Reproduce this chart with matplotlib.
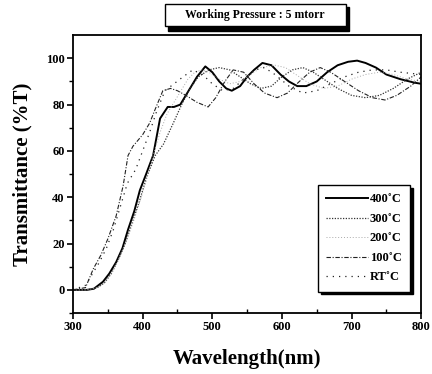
import numpy as np
import matplotlib
matplotlib.use("Agg")
import matplotlib.pyplot as plt
from matplotlib.patches import Rectangle

# wavelength (nm) / transmittance (%T)
wl_400 = [300, 320, 330, 343, 352, 362, 371, 379, 388, 396, 405, 415, 425, 436, 445, 454, 462, 468,
          478, 490, 500, 510, 520, 528, 540, 550, 560, 572, 585, 598, 610, 622, 635, 650, 665, 680,
          695, 708, 720, 735, 750, 770, 790, 800]
t_400 = [0, 0, 0.5, 3.5, 7, 12, 18, 26, 34, 43, 50, 58, 74, 79, 79, 80, 84, 87,
         92, 96.5, 94, 90, 87, 86, 88, 92, 95, 98, 97, 93, 90, 88, 88, 90, 94, 97,
         98.5, 99, 98, 96, 93, 91, 89.5, 89]

wl_300 = [300, 320, 335, 345, 355, 365, 375, 385, 395, 405, 418, 430, 444, 456, 468, 480, 495, 510,
          525, 540, 555, 570, 585, 600, 615, 630, 645, 660, 680, 700, 720, 740, 760, 780, 800]
t_300 = [0, 0, 1, 3, 7, 13, 20, 29, 38, 48, 58, 63, 72, 80, 87, 92, 95, 96,
         95, 92, 89, 87, 88, 92, 95, 96, 94, 91, 87, 84, 83, 84, 87, 91, 94]

wl_200 = [300, 320, 335, 345, 355, 365, 375, 385, 395, 405, 415, 425, 435, 445, 455, 465, 475, 485,
          495, 510, 525, 540, 555, 570, 590, 605, 620, 640, 660, 680, 700, 720, 740, 760, 780, 800]
t_200 = [0, 0, 1, 3, 7, 13, 20, 28, 37, 47, 58, 68, 76, 81, 86, 91, 94, 95,
         94, 91, 89, 90, 93, 96, 97, 96, 93, 89, 87, 88, 91, 93, 94, 93, 91, 90]

wl_100 = [300, 318, 329, 340, 350, 362, 372, 379, 386, 400, 410, 418, 429, 440, 450, 462, 478, 494,
          505, 518, 530, 545, 560, 575, 593, 608, 625, 640, 655, 670, 690, 710, 730, 748, 765, 785, 800]
t_100 = [0, 1, 9, 15, 22, 32, 45, 58, 62, 67, 72, 78, 86, 87, 86, 84, 81, 79,
         83, 90, 95, 94, 89, 85, 83, 85, 90, 94, 96, 94, 90, 86, 83, 82, 84, 88, 92]

wl_rt = [300, 318, 328, 338, 348, 358, 368, 378, 390, 400, 410, 420, 432, 445, 458, 472, 486, 500,
         515, 530, 545, 560, 575, 590, 610, 630, 650, 670, 690, 710, 730, 750, 770, 800]
t_rt = [0, 2, 7, 12, 18, 26, 36, 46, 52, 60, 68, 77, 86, 89, 92, 95, 93, 89,
        86, 87, 91, 95, 96, 93, 88, 85, 86, 89, 92, 94, 95, 95, 94, 93]

x_ticks = [300, 400, 500, 600, 700, 800]
y_ticks = [0, 20, 40, 60, 80, 100]

plt.rcParams['font.family'] = ['Liberation Serif', 'DejaVu Serif']
plt.rcParams['font.weight'] = 'bold'

fig = plt.figure(figsize=(4.32, 3.74), dpi=100)
ax = fig.add_axes([0.169, 0.163, 0.806, 0.743])

ax.plot(wl_400, t_400, color='black', lw=1.4, label='400˚C')
ax.plot(wl_300, t_300, color='#333333', lw=0.9, ls=(0, (1, 1.2)), label='300˚C')
ax.plot(wl_200, t_200, color='#aaaaaa', lw=0.7, ls=(0, (1, 2)), label='200˚C')
ax.plot(wl_100, t_100, color='#222222', lw=0.8, ls=(0, (4, 1.5, 1, 1.5)), label='100˚C')
ax.plot(wl_rt, t_rt, color='#222222', lw=0.9, ls=(0, (1, 4)), label='RT˚C')

ax.set_xlim(300, 800)
ax.set_ylim(-10, 110)
ax.set_xticks(x_ticks)
ax.set_yticks(y_ticks)
ax.set_xticks(np.arange(350, 800, 100), minor=True)
ax.set_yticks(np.arange(-10, 110, 20), minor=True)
ax.tick_params(axis='both', which='major', direction='out', length=4, width=1.2,
               labelsize=9, pad=2)
ax.tick_params(axis='x', which='minor', direction='in', length=3, width=1)
ax.tick_params(axis='y', which='minor', direction='out', length=3, width=1)
for s in ax.spines.values():
    s.set_linewidth(1.3)

ax.set_xlabel('Wavelength(nm)', fontsize=15, fontweight='bold', labelpad=11)
ax.set_ylabel('Transmittance (%T)', fontsize=15, fontweight='bold', labelpad=10)

leg = ax.legend(loc='lower right', bbox_to_anchor=(0.985, 0.055), fontsize=9,
                frameon=True, fancybox=False, handlelength=3.4, handletextpad=0.1,
                labelspacing=0.6, borderpad=0.65,
                shadow={'color': 'black', 'alpha': 1})
leg.get_frame().set_edgecolor('black')
leg.get_frame().set_linewidth(1.0)

# title box with a black drop shadow
fig.patches.append(Rectangle((0.389, 0.918), 0.418, 0.064, transform=fig.transFigure,
                             facecolor='black', edgecolor='black', zorder=5))
fig.patches.append(Rectangle((0.382, 0.930), 0.418, 0.060, transform=fig.transFigure,
                             facecolor='white', edgecolor='black', lw=1.0, zorder=6))
fig.text(0.591, 0.960, 'Working Pressure : 5 mtorr', ha='center', va='center',
         fontsize=8.5, fontweight='bold', zorder=7)

fig.savefig('out.png', dpi=100)
